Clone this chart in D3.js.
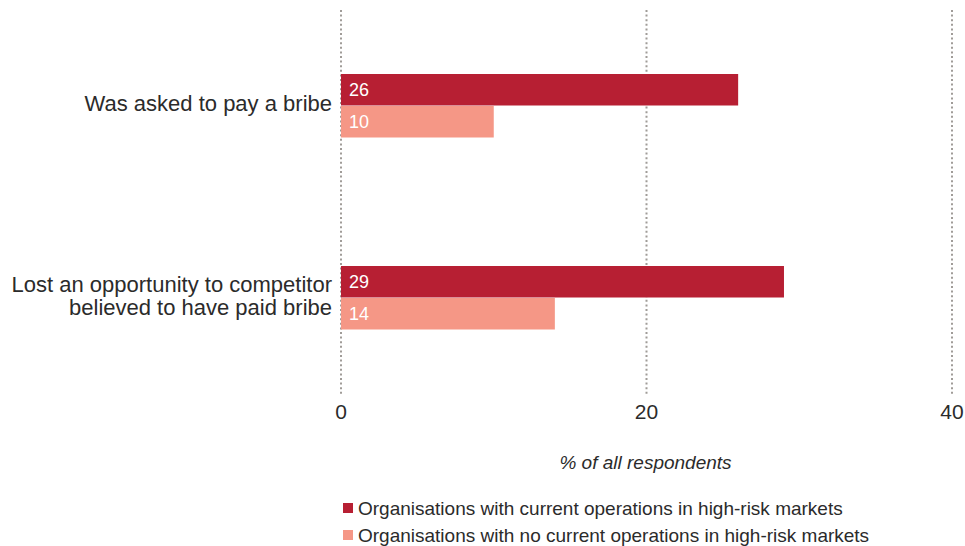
<!DOCTYPE html>
<meta charset="utf-8">
<style>
    body {
        margin: 0;
        font-family: "Liberation Sans", Arial, sans-serif;
        background: #fff;
    }

    .grid line {
        stroke: #a09c98;
        stroke-width: 2px;
        stroke-dasharray: 2, 2.6;
    }

    .tick-label {
        font-size: 21px;
        fill: #2b2b2b;
        text-anchor: middle;
    }

    .cat-label {
        font-size: 22px;
        fill: #2b2b2b;
        text-anchor: end;
    }

    .bar-label {
        font-size: 18px;
        fill: #fff;
    }

    .legend text {
        font-size: 19px;
        fill: #2b2b2b;
    }
</style>

<body>
    <script src="https://cdn.jsdelivr.net/npm/d3@7"></script>

    <script>

        var categories = ["Was asked to pay a bribe", "Lost an opportunity to competitor believed to have paid bribe"];
        var categoryLines = [["Was asked to pay a bribe"], ["Lost an opportunity to competitor", "believed to have paid bribe"]];
        var series = ["Organisations with current operations in high-risk markets",
            "Organisations with no current operations in high-risk markets"];
        var currentOps = [26, 29];
        var noCurrentOps = [10, 14];
        var ticks = [0, 20, 40];
        var axisTitle = "% of all respondents";

        var width = 965,
            height = 546;

        var colors = ["#b71f33", "#f59786"];

        var x = d3.scaleLinear()
            .domain([0, 40])
            .range([341, 952]);

        var y = d3.scaleBand()
            .domain(categories)
            .range([10, 394]);

        var y1 = d3.scaleBand()
            .domain(series)
            .range([0, 64]);

        var svg = d3.select("body").append("svg")
            .attr("width", width)
            .attr("height", height);

        // gridlines
        svg.append("g").attr("class", "grid")
            .selectAll("line")
            .data(ticks)
            .enter().append("line")
            .attr("x1", function (d) { return x(d); })
            .attr("x2", function (d) { return x(d); })
            .attr("y1", 10)
            .attr("y2", 395);

        svg.append("g")
            .selectAll("text")
            .data(ticks)
            .enter().append("text")
            .attr("class", "tick-label")
            .attr("x", function (d) { return x(d); })
            .attr("y", 419)
            .text(function (d) { return d; });

        svg.append("text")
            .attr("x", x(20) - 1)
            .attr("y", 469)
            .attr("text-anchor", "middle")
            .style("font-size", "19px")
            .style("font-style", "italic")
            .style("fill", "#2b2b2b")
            .text(axisTitle);

        var rows = categories.map(function (c, i) {
            return { cat: c, lines: categoryLines[i], values: [currentOps[i], noCurrentOps[i]] };
        });

        var group = svg.selectAll("g.cat")
            .data(rows)
            .enter().append("g")
            .attr("class", "cat")
            .attr("transform", function (d) { return "translate(0," + (y(d.cat) + (y.bandwidth() - 64) / 2) + ")"; });

        var bar = group.selectAll("g.bar")
            .data(function (d) { return d.values.map(function (v, j) { return { s: series[j], v: v, j: j }; }); })
            .enter().append("g")
            .attr("class", "bar");

        bar.append("rect")
            .attr("x", x(0))
            .attr("y", function (d) { return y1(d.s); })
            .attr("width", function (d) { return x(d.v) - x(0); })
            .attr("height", y1.bandwidth() - 0.5)
            .style("fill", function (d) { return colors[d.j]; });

        bar.append("text")
            .attr("class", "bar-label")
            .attr("x", x(0) + 8)
            .attr("y", function (d) { return y1(d.s) + 22; })
            .text(function (d) { return d.v; });

        group.each(function (d) {
            var n = d.lines.length;
            var t = d3.select(this).append("text")
                .attr("class", "cat-label");
            d.lines.forEach(function (line, k) {
                t.append("tspan")
                    .attr("x", 332)
                    .attr("y", 32 + (k - (n - 1) / 2) * 23 + 5)
                    .text(line);
            });
        });

        // legend
        var legend = svg.append("g").attr("class", "legend")
            .selectAll("g")
            .data(series)
            .enter().append("g")
            .attr("transform", function (d, i) { return "translate(343," + (508 + i * 27) + ")"; });

        legend.append("rect")
            .attr("x", 0)
            .attr("y", -5)
            .attr("width", 10)
            .attr("height", 10)
            .style("fill", function (d, i) { return colors[i]; });

        legend.append("text")
            .attr("x", 15)
            .attr("y", 7)
            .text(function (d) { return d; });

    </script>

</body>

</html>
